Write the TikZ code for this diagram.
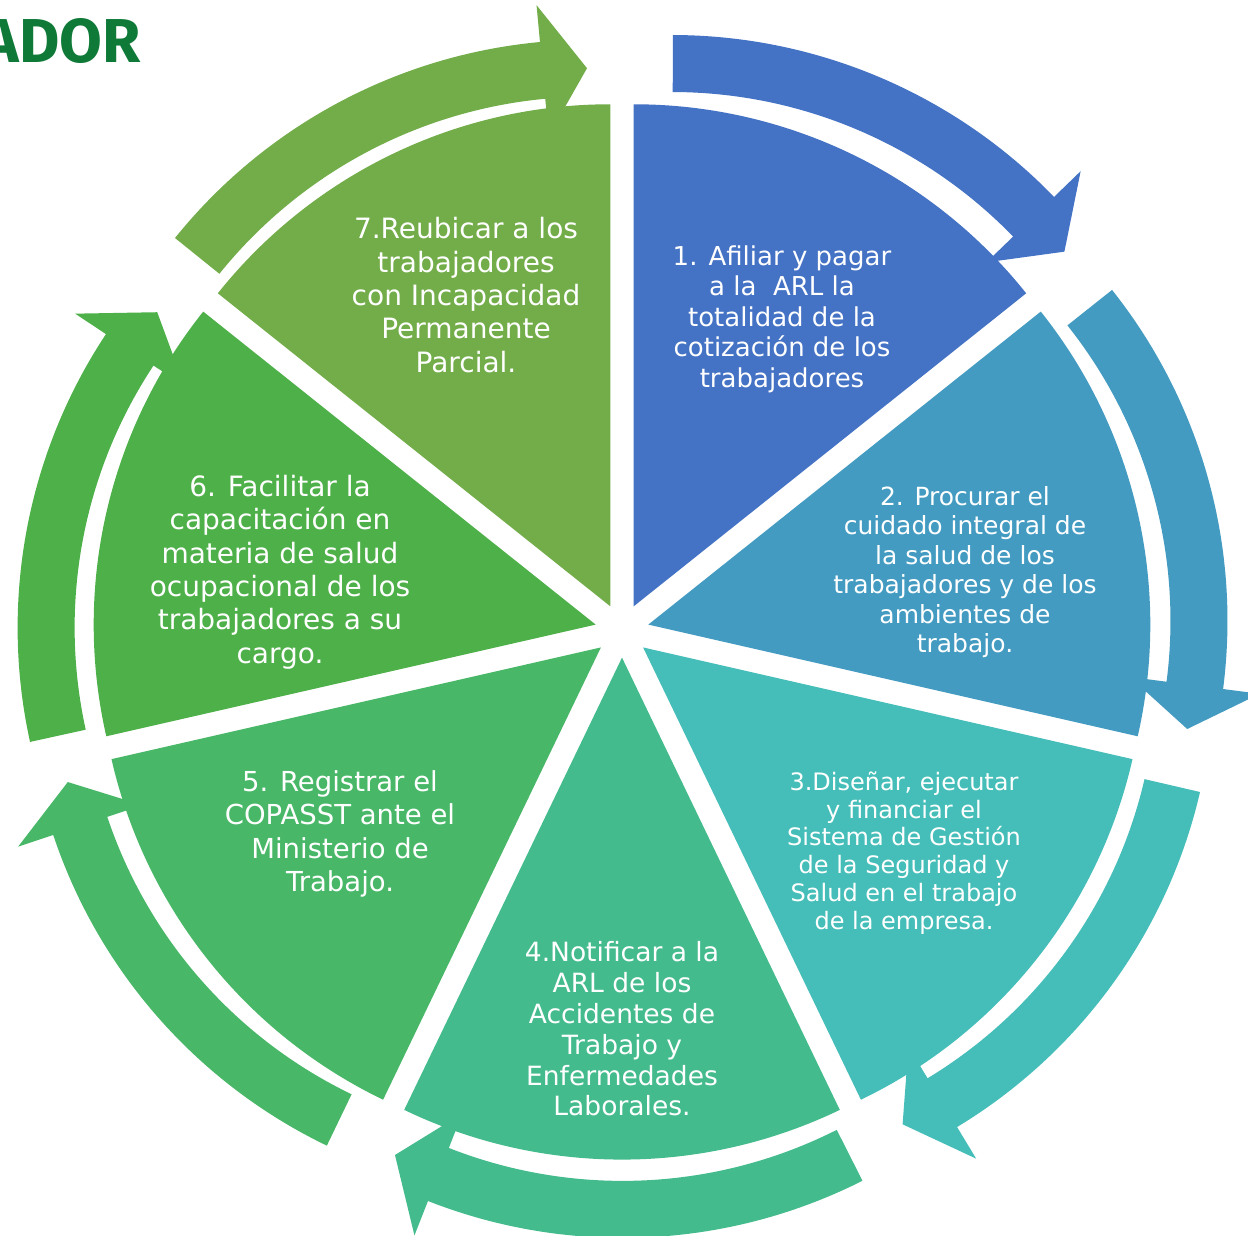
\documentclass[tikz,border=0pt]{standalone}
\usepackage{fontspec}
\setmainfont{DejaVu Sans}
\newfontfamily\adorfont{Fira Sans}
\definecolor{cA}{HTML}{4472C4}
\definecolor{cB}{HTML}{439BC2}
\definecolor{cC}{HTML}{45BEB9}
\definecolor{cD}{HTML}{44BB8D}
\definecolor{cE}{HTML}{48B868}
\definecolor{cF}{HTML}{4EB049}
\definecolor{cG}{HTML}{72AD49}
\definecolor{adorgreen}{HTML}{0F7A38}
\tikzset{
  lbl/.style={text=white, align=center, inner sep=0pt},
}
\begin{document}
\begin{tikzpicture}[x=1pt,y=1pt]
\useasboundingbox (0,0) rectangle (1248,-1236);
\fill[white] (0,0) rectangle (1248,-1236);
% circular arrows: centre x / centre y (image) / tail angle / head base angle / tip angle / colour
\foreach \cx/\cy/\aa/\ab/\ac/\col in {
  671.9/567/89.9/44.08/38.78/cA,
  695.5/620.8/38.46/-7.37/-12.41/cB,
  681.8/671.8/-13.06/-58.84/-63.99/cC,
  622.6/705.9/-63.2/-111.46/-116.88/cD,
  557.8/666.4/-115.73/-161.53/-166.72/cE,
  549.6/627.7/192.4/146.5/141.2/cF,
  589.3/571.7/141.15/95.32/90.26/cG}{
  \fill[\col, shift={(\cx,-\cy)}]
    (\aa:532pt) arc[start angle=\aa, end angle=\ab, radius=532pt]
    -- (\ab:569pt) -- (\ac:503.5pt) -- (\ab:438pt) -- (\ab:475pt)
    arc[start angle=\ab, end angle=\aa, radius=475pt] -- cycle;
}
% pie segments
\foreach \b/\col in {64.2857/cA, 12.8571/cB, -38.5714/cC, -90/cD, -141.4286/cE, -192.8571/cF, -244.2857/cG}{
  \fill[\col, shift={(622,-630.6)}, shift={(\b:27pt)}]
    (0,0) -- ({\b+25.7143}:502pt)
    arc[start angle={\b+25.7143}, end angle={\b-25.7143}, radius=502pt] -- cycle;
}
% texts
\node[lbl, font={\fontsize{26}{30.5}\selectfont}] (t1) at (782,-319)
  {1. Afiliar y pagar\\a la\ \ ARL la\\totalidad de la\\cotización de los\\trabajadores};
\node[lbl, font={\fontsize{25}{29.4}\selectfont}] (t2) at (965,-572)
  {2. Procurar el\\cuidado integral de\\la salud de los\\trabajadores y de los\\ambientes de\\trabajo.};
\node[lbl, font={\fontsize{24}{27.8}\selectfont}] (t3) at (904,-853)
  {3.Diseñar, ejecutar\\y financiar el\\Sistema de Gestión\\de la Seguridad y\\Salud en el trabajo\\de la empresa.};
\node[lbl, font={\fontsize{26.5}{30.8}\selectfont}] (t4) at (622,-1029)
  {4.Notificar a la\\ARL de los\\Accidentes de\\Trabajo y\\Enfermedades\\Laborales.};
\node[lbl, font={\fontsize{27.5}{33.3}\selectfont}] (t5) at (340,-834)
  {5. Registrar el\\COPASST ante el\\Ministerio de\\Trabajo.};
\node[lbl, font={\fontsize{28}{33.4}\selectfont}] (t6) at (280,-572)
  {6. Facilitar la\\capacitación en\\materia de salud\\ocupacional de los\\trabajadores a su\\cargo.};
\node[lbl, font={\fontsize{28}{33.3}\selectfont}] (t7) at (466,-295)
  {7.Reubicar a los\\trabajadores\\con Incapacidad\\Permanente\\Parcial.};
% clipped title fragment
\node[anchor=base east, inner sep=0pt, text=adorgreen,
      font={\adorfont\bfseries\fontsize{62}{62}\selectfont}] (ador) at (141,-63) {ADOR};
\end{tikzpicture}
\end{document}
